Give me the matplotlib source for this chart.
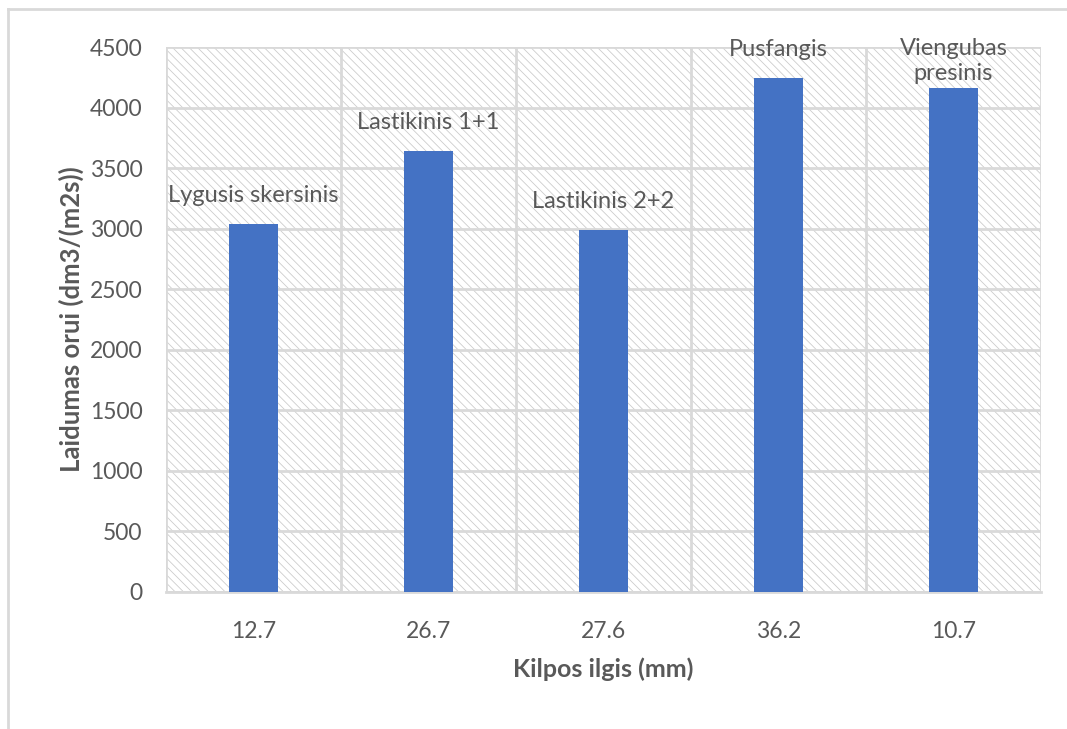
import matplotlib.pyplot as plt
from matplotlib.patches import Rectangle
from matplotlib.lines import Line2D

# data
categories = ['12.7', '26.7', '27.6', '36.2', '10.7']
values = [3040, 3640, 2990, 4240, 4160]
bar_labels = ['Lygusis skersinis', 'Lastikinis 1+1', 'Lastikinis 2+2',
              'Pusfangis', 'Viengubas\npresinis']

plt.rcParams['font.family'] = ['Lato', 'DejaVu Sans']
plt.rcParams['hatch.linewidth'] = 0.6
plt.rcParams['hatch.color'] = '#cccccc'

text_color = '#595959'
grid_color = '#d9d9d9'
bar_color = '#4472C4'

fig = plt.figure(figsize=(10.67, 7.29), dpi=100)
ax = fig.add_axes([166 / 1067, 1 - 592 / 729, 875 / 1067, 545 / 729])

# outer chart border (left and top only visible)
fig.add_artist(Line2D([8 / 1067, 8 / 1067], [0, 1 - 9 / 729], transform=fig.transFigure,
                      color='#d9d9d9', lw=2))
fig.add_artist(Line2D([8 / 1067, 1], [1 - 9 / 729, 1 - 9 / 729], transform=fig.transFigure,
                      color='#d9d9d9', lw=2))

# hatched plot area
ax.add_patch(Rectangle((0, 0), 1, 1, transform=ax.transAxes, facecolor='white',
                       edgecolor='#cccccc', hatch='\\\\\\\\', lw=0, zorder=0))

x = range(len(categories))
ax.bar(x, values, width=0.275, color=bar_color, zorder=3)

ax.set_xlim(-0.5, len(categories) - 0.5)
ax.set_ylim(0, 4500)
ax.set_yticks(range(0, 4501, 500))
ax.set_xticks(list(x))
ax.set_xticklabels(categories)
ax.set_xticks([i - 0.5 for i in range(len(categories) + 1)], minor=True)

ax.grid(axis='y', which='major', color=grid_color, lw=2, zorder=1)
ax.grid(axis='x', which='minor', color=grid_color, lw=2, zorder=1)
ax.grid(axis='x', which='major', visible=False)
ax.set_axisbelow(True)

for s in ['top', 'right', 'left']:
    ax.spines[s].set_visible(False)
ax.spines['bottom'].set_color(grid_color)
ax.spines['bottom'].set_linewidth(2)

ax.tick_params(axis='both', which='both', length=0, colors=text_color, labelsize=16.5)
ax.tick_params(axis='x', pad=21)
ax.tick_params(axis='y', pad=17)

label_offsets = [13, 13, 13, 13, 3]
for i, (v, lab) in enumerate(zip(values, bar_labels)):
    ax.annotate(lab, (i, v), xytext=(0, label_offsets[i]), textcoords='offset points',
                ha='center', va='bottom', fontsize=17, color=text_color,
                linespacing=1.25, annotation_clip=False)

ax.set_xlabel('Kilpos ilgis (mm)', fontsize=18, fontweight='bold', color=text_color, labelpad=11)
ax.set_ylabel('Laidumas orui (dm3/(m2s))', fontsize=18.5, fontweight='bold', color=text_color,
              labelpad=4)

fig.savefig('out.png', dpi=100)
